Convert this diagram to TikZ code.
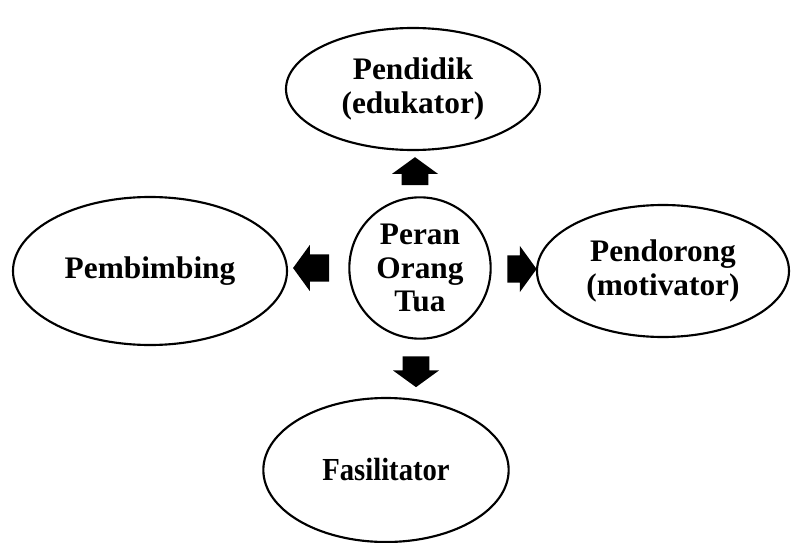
\documentclass[tikz,border=0pt]{standalone}
\usepackage{fontspec}
\setmainfont{Liberation Serif}
\usetikzlibrary{shapes.geometric,shapes.arrows}
\begin{document}
\begin{tikzpicture}[x=0.75pt, y=-0.75pt,
  main/.style = {draw, line width=1.6pt, ellipse, inner sep=0pt, align=center,
    font=\fontsize{23.5}{25}\selectfont\bfseries},
  blk/.style = {single arrow, fill=black, draw=none, inner xsep=0pt, inner ysep=10pt,
    minimum width=34.5pt, single arrow tip angle=108},
  vblk/.style = {blk, inner xsep=9.5pt, inner ysep=0pt}]
\useasboundingbox (0,0) rectangle (794,543);

\node[main, circle, minimum size=106pt] (1) at (420,268) {Peran\\Orang\\Tua};
\node[main, minimum width=190.5pt, minimum height=91.5pt] (2) at (413,89) {Pendidik\\(edukator)};
\node[main, minimum width=205.5pt, minimum height=111pt] (3) at (150,271) {Pembimbing};
\node[main, minimum width=189pt, minimum height=99pt] (4) at (663,271) {Pendorong\\(motivator)};
\node[main, minimum width=184pt, minimum height=108pt, font=\fontsize{21.5}{25}\selectfont\bfseries] (5) at (386,470) {\scalebox{1}[1.12]{Fasilitator}};

% block arrows
\node[vblk, minimum height=21pt, shape border rotate=90] (6) at (415,176) {};
\node[blk, minimum height=27pt, shape border rotate=180] (7) at (316,268) {};
\node[blk, minimum height=22pt, shape border rotate=0] (8) at (517,269) {};
\node[vblk, minimum height=23pt, shape border rotate=270] (9) at (416,367) {};

\end{tikzpicture}
\end{document}
